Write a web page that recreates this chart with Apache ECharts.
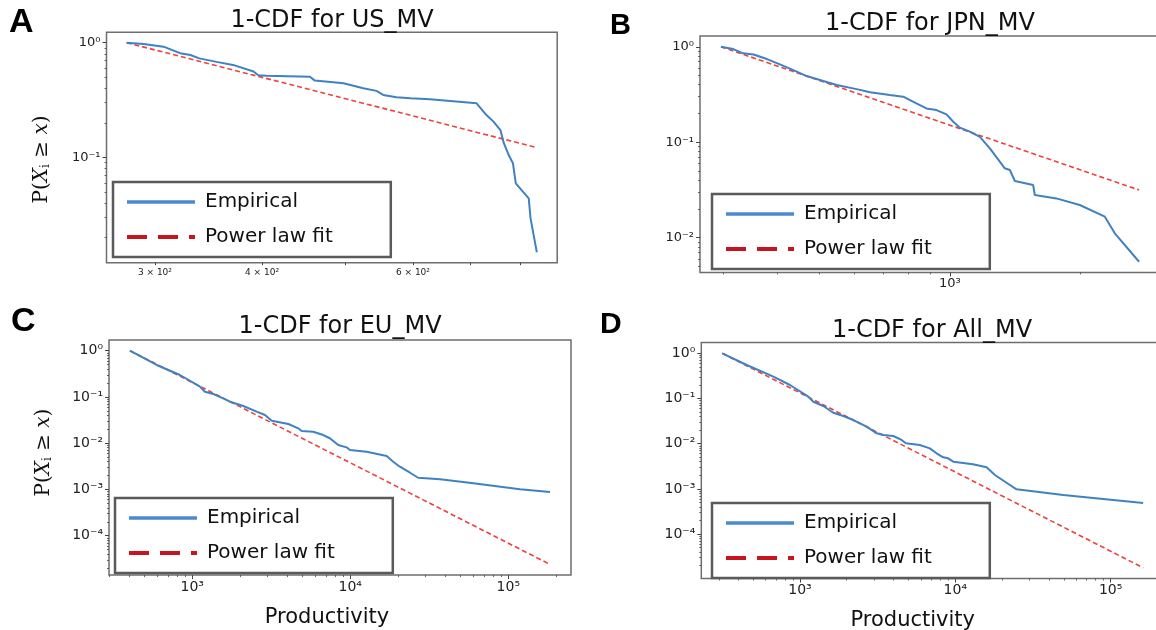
<!DOCTYPE html>
<html><head><meta charset="utf-8">
<script src="https://cdn.jsdelivr.net/npm/echarts@6/dist/echarts.min.js"></script>
<style>html,body{margin:0;padding:0;background:#fff}#c{width:1156px;height:630px}</style>
</head><body><div id="c"></div>
<script>
// ---------- data ----------
// Panel A: US_MV
const usEmpX = [278, 291, 307, 321, 330, 338, 354, 370, 391, 396, 405, 455, 461, 498, 525, 544, 554, 574, 596, 628, 712, 731, 745, 759, 766, 776, 785, 791, 819, 823, 837];
const usEmpY = [1.0, 0.975, 0.923, 0.81, 0.78, 0.73, 0.68, 0.64, 0.56, 0.52, 0.515, 0.505, 0.467, 0.443, 0.40, 0.38, 0.35, 0.334, 0.327, 0.321, 0.296, 0.234, 0.205, 0.173, 0.133, 0.105, 0.0889, 0.0594, 0.044, 0.0294, 0.0149];
const usFitX = [278, 837];
const usFitY = [1.0, 0.1216];
// Panel B: JPN_MV
const jpnEmpX = [296, 316, 333, 352, 378, 405, 435, 467, 510, 548, 609, 654, 727, 780, 837, 883, 931, 982, 1018, 1055, 1112, 1173, 1237, 1304, 1339, 1376, 1413, 1557, 1571, 1762, 1995, 2280, 2404, 2735];
const jpnEmpY = [1.0, 0.946, 0.853, 0.83, 0.743, 0.654, 0.570, 0.493, 0.437, 0.397, 0.360, 0.333, 0.312, 0.300, 0.255, 0.226, 0.217, 0.196, 0.164, 0.142, 0.129, 0.114, 0.0863, 0.0625, 0.0533, 0.0512, 0.0392, 0.0356, 0.028, 0.0258, 0.022, 0.0166, 0.0111, 0.0056];
const jpnFitX = [296, 2735];
const jpnFitY = [1.0, 0.0316];
// Panel C: EU_MV
const euEmpX = [403, 596, 836, 1119, 1203, 1359, 1571, 1733, 2104, 2557, 2886, 3182, 4057, 4690, 4925, 5834, 6745, 7430, 8390, 9480, 9950, 12700, 17000, 18700, 20600, 23900, 26900, 37000, 60100, 118600, 183600];
const euEmpY = [1.0, 0.491, 0.298, 0.167, 0.130, 0.116, 0.0934, 0.079, 0.0637, 0.048, 0.0407, 0.0307, 0.026, 0.021, 0.0184, 0.0177, 0.0150, 0.0128, 0.00914, 0.00814, 0.00713, 0.00655, 0.00528, 0.00398, 0.0031, 0.0023, 0.00179, 0.00166, 0.00136, 0.00101, 0.00088];
const euFitX = [403, 183600];
const euFitY = [1.0, 2.4e-5];
// Panel D: All_MV
const allEmpX = [316, 454, 674, 862, 1131, 1218, 1413, 1638, 1900, 2204, 2687, 3116, 3437, 3985, 4508, 4805, 5910, 6856, 7570, 8360, 9000, 9700, 13000, 15900, 18000, 20900, 24800, 49600, 162000];
const allEmpY = [1.0, 0.551, 0.304, 0.199, 0.110, 0.0849, 0.0682, 0.0485, 0.041, 0.0334, 0.0238, 0.0170, 0.0156, 0.0148, 0.0121, 0.0102, 0.00935, 0.0079, 0.00613, 0.0050, 0.00475, 0.0040, 0.0035, 0.0030, 0.00203, 0.00144, 0.00098, 0.00073, 0.00049];
const allFitX = [316, 162000];
const allFitY = [1.0, 1.8e-5];

const titles = ['1-CDF for US_MV', '1-CDF for JPN_MV', '1-CDF for EU_MV', '1-CDF for All_MV'];
const panelLetters = ['A', 'B', 'C', 'D'];
const seriesNames = ['Empirical', 'Power law fit'];
const xAxisTitle = 'Productivity';

// labelled tick values
const usXLabels = [300, 400, 600];
const usXTicks = [300, 400, 500, 600, 700, 800];
const usYLabels = [0.1, 1];
const jpnXLabels = [1000];
const jpnYLabels = [0.01, 0.1, 1];
const wideXLabels = [1e3, 1e4, 1e5];
const wideYLabels = [1e-4, 1e-3, 1e-2, 1e-1, 1];

// ---------- helpers ----------
const zip = (xs, ys) => xs.map((x, i) => [x, ys[i]]);
const SUP = {'0':'⁰','1':'¹','2':'²','3':'³','4':'⁴','5':'⁵','6':'⁶','7':'⁷','8':'⁸','9':'⁹','-':'⁻'};
const sup = n => String(n).split('').map(c => SUP[c]).join('');
function powLabel(v) {
  const e = Math.floor(Math.log10(v) + 1e-9);
  const m = Math.round(v / Math.pow(10, e));
  return m === 1 ? '10' + sup(e) : m + ' × 10' + sup(e);
}
function minors(lo, hi) {
  const out = [];
  for (let n = Math.floor(Math.log10(lo)) - 1; n <= Math.ceil(Math.log10(hi)); n++) {
    for (let k = 2; k <= 9; k++) {
      const v = k * Math.pow(10, n);
      if (v >= lo && v <= hi) out.push(+v.toPrecision(6));
    }
  }
  return out;
}

const TXT = '#111';
const TICK = '#444';
const panels = [
  { grid: {left: 106.5, top: 32.2, width: 450.7, height: 230.5},
    x: [263.4, 884.1], y: [0.01208, 1.234],
    xLab: usXLabels, xMaj: usXTicks, xMajLen: 2.5, xMin: [], xFont: 9,
    yLab: usYLabels, yFont: 13,
    emp: zip(usEmpX, usEmpY), fit: zip(usFitX, usFitY),
    title: [332, 9], letter: [9, 6, 34], legend: [113, 182], yName: true, yShift: 24, xName: false },
  { grid: {left: 700, top: 36, width: 460, height: 236.4},
    x: [264.8, 3057], y: [0.004329, 1.296],
    xLab: jpnXLabels, xMaj: jpnXLabels, xMajLen: 4, xMin: minors(264.8, 3057), xFont: 13,
    yLab: jpnYLabels, yFont: 13,
    emp: zip(jpnEmpX, jpnEmpY), fit: zip(jpnFitX, jpnFitY),
    title: [930, 12], letter: [610, 11, 29], legend: [712, 194], yName: false, xName: false },
  { grid: {left: 109, top: 340, width: 462, height: 235.1},
    x: [297.3, 249400], y: [1.409e-5, 1.702],
    xLab: wideXLabels, xMaj: wideXLabels, xMajLen: 4, xMin: minors(297.3, 249400), xFont: 14,
    yLab: wideYLabels, yFont: 14,
    emp: zip(euEmpX, euEmpY), fit: zip(euFitX, euFitY),
    title: [340, 315], letter: [11, 305, 34], legend: [115, 498], yName: true, yShift: -10, xName: true, xNameShift: 26 },
  { grid: {left: 701.3, top: 342.6, width: 462.9, height: 235.9},
    x: [231.5, 221300], y: [1.042e-5, 1.726],
    xLab: wideXLabels, xMaj: wideXLabels, xMajLen: 4, xMin: minors(231.5, 221300), xFont: 14,
    yLab: wideYLabels, yFont: 14,
    emp: zip(allEmpX, allEmpY), fit: zip(allFitX, allFitY),
    title: [932, 319], letter: [600, 310, 30], legend: [712, 503], yName: false, xName: true, xNameShift: 40 }
];

const option = {
  backgroundColor: '#fff',
  animation: false,
  title: [], grid: [], xAxis: [], yAxis: [], series: [], legend: [], graphic: []
};

const yNameRich = {
  r: {fontFamily: 'DejaVu Serif', fontSize: 20, color: TXT},
  i: {fontFamily: 'DejaVu Serif', fontSize: 20, fontStyle: 'italic', color: TXT},
  s: {fontFamily: 'DejaVu Serif', fontSize: 12, color: TXT, verticalAlign: 'bottom'}
};

panels.forEach((p, k) => {
  option.grid.push(Object.assign({
    show: true, borderColor: '#6e6e6e', borderWidth: 1.5, backgroundColor: 'transparent',
    containLabel: false, outerBoundsMode: 'none'
  }, p.grid));
  option.title.push({
    text: titles[k], left: p.title[0], top: p.title[1], textAlign: 'center', padding: 0,
    textStyle: {fontFamily: 'DejaVu Sans', fontSize: 24, fontWeight: 'normal', color: TXT}
  });
  option.graphic.push({
    type: 'text', left: p.letter[0], top: p.letter[1], silent: true,
    style: {text: panelLetters[k], font: 'bold ' + p.letter[2] + 'px "Liberation Sans", Arial, sans-serif', fill: '#000'}
  });
  const ys = p.yShift || 0;
  // major x axis (labels)
  option.xAxis.push({
    type: 'log', gridIndex: k, min: p.x[0], max: p.x[1], position: 'bottom',
    axisLine: {show: false}, splitLine: {show: false},
    axisTick: {show: true, length: p.xMajLen, customValues: p.xMaj, lineStyle: {color: TICK, width: 1}},
    axisLabel: {show: true, customValues: p.xLab, formatter: powLabel, margin: 5,
      fontFamily: 'DejaVu Sans', fontSize: p.xFont, color: '#222'},
    name: p.xName ? xAxisTitle : '', nameLocation: 'middle', nameGap: 32,
    nameTextStyle: {fontFamily: 'DejaVu Sans', fontSize: 21, color: TXT, padding: [0, p.xNameShift || 0, 0, 0]}
  });
  // minor x axis (ticks only)
  option.xAxis.push({
    type: 'log', gridIndex: k, min: p.x[0], max: p.x[1], position: 'bottom',
    axisLine: {show: false}, splitLine: {show: false}, axisLabel: {show: false},
    axisTick: {show: p.xMin.length > 0, length: 2, customValues: p.xMin.length ? p.xMin : [p.x[0]], lineStyle: {color: TICK, width: 0.8}}
  });
  // major y axis
  option.yAxis.push({
    type: 'log', gridIndex: k, min: p.y[0], max: p.y[1], position: 'left',
    axisLine: {show: false}, splitLine: {show: false},
    axisTick: {show: true, length: 4, customValues: p.yLab, lineStyle: {color: TICK, width: 1}},
    axisLabel: {show: true, customValues: p.yLab, formatter: powLabel, margin: 6,
      fontFamily: 'DejaVu Sans', fontSize: p.yFont, color: '#222'},
    name: p.yName ? '{r|P(}{i|X}{s|i}{r| ≥ }{i|x}{r|)}' : '', nameLocation: 'middle', nameGap: 55, nameRotate: 90,
    nameTextStyle: {fontFamily: 'DejaVu Serif', fontSize: 20, color: TXT, rich: yNameRich,
      padding: [0, Math.max(ys, 0), 0, Math.max(-ys, 0)]}
  });
  // minor y axis
  option.yAxis.push({
    type: 'log', gridIndex: k, min: p.y[0], max: p.y[1], position: 'left',
    axisLine: {show: false}, splitLine: {show: false}, axisLabel: {show: false},
    axisTick: {show: true, length: 2, customValues: minors(p.y[0], p.y[1]), lineStyle: {color: TICK, width: 0.8}}
  });
  option.series.push({
    name: seriesNames[0], type: 'line', xAxisIndex: 2 * k, yAxisIndex: 2 * k,
    data: p.emp, showSymbol: false, symbol: 'none', clip: true, z: 3,
    lineStyle: {color: '#3f82c2', width: 2}, itemStyle: {color: '#3f82c2'}
  });
  option.series.push({
    name: seriesNames[1], type: 'line', xAxisIndex: 2 * k, yAxisIndex: 2 * k,
    data: p.fit, showSymbol: false, symbol: 'none', clip: true, z: 2,
    lineStyle: {color: '#f0413c', width: 1.6, type: [5, 3]}, itemStyle: {color: '#f0413c'}
  });
  option.legend.push({
    left: p.legend[0], top: p.legend[1], orient: 'vertical', selectedMode: false,
    padding: [9, 58, 9, 12], itemWidth: 68, itemHeight: 14, itemGap: 13,
    borderColor: '#5a5a5a', borderWidth: 2.5, borderRadius: 0, backgroundColor: '#fff',
    textStyle: {fontFamily: 'DejaVu Sans', fontSize: 20, color: TXT, lineHeight: 22, padding: [0, 0, 0, 5]},
    z: 10,
    data: [
      {name: seriesNames[0], itemStyle: {opacity: 0, color: 'rgba(0,0,0,0)', borderWidth: 0},
       lineStyle: {color: '#4a8ad0', width: 3.5, type: 'solid', opacity: 1}},
      {name: seriesNames[1], itemStyle: {opacity: 0, color: 'rgba(0,0,0,0)', borderWidth: 0},
       lineStyle: {color: '#c8141e', width: 4, type: [20, 11], opacity: 1}}
    ]
  });
});

const chart = echarts.init(document.getElementById('c'), null, {renderer: 'canvas'});
chart.setOption(option);
</script>
</body></html>
